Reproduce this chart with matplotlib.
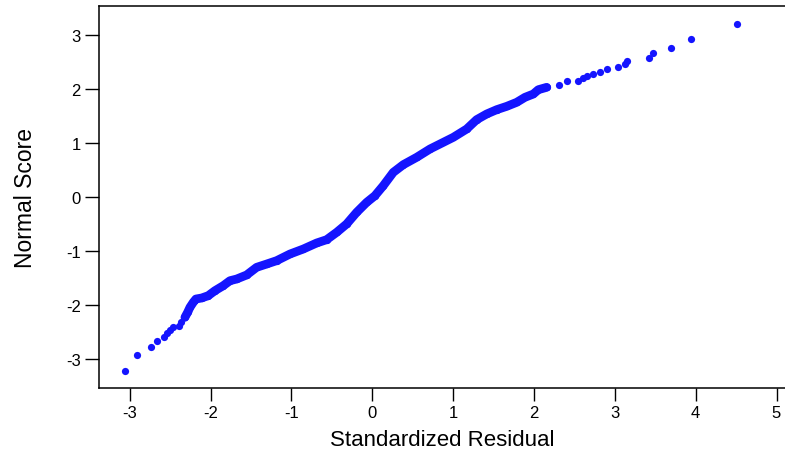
import matplotlib
matplotlib.use("Agg")
import matplotlib.pyplot as plt

# points
# lower tail (single dots)
low_resid = [-3.055, -2.907, -2.737, -2.66, -2.577, -2.543, -2.499, -2.465, -2.387, -2.37]
low_score = [-3.217, -2.932, -2.778, -2.667, -2.587, -2.519, -2.463, -2.407, -2.383, -2.309]

# middle part, the dots sit so close they make a band
mid_resid = [-2.317, -2.284, -2.255, -2.214, -2.181, -2.11, -2.029, -1.946, -1.843, -1.76,
             -1.678, -1.554, -1.43, -1.306, -1.183, -1.018, -0.853, -0.688, -0.564, -0.44,
             -0.317, -0.193, -0.069, 0.033, 0.136, 0.26, 0.384, 0.549, 0.714, 0.878,
             1.002, 1.168, 1.291, 1.415, 1.539, 1.663, 1.786, 1.889, 1.992, 2.054, 2.157]
mid_score = [-2.228, -2.136, -2.043, -1.95, -1.889, -1.87, -1.827, -1.735, -1.642, -1.55,
             -1.519, -1.444, -1.302, -1.241, -1.179, -1.056, -0.963, -0.852, -0.79, -0.654,
             -0.5, -0.284, -0.099, 0.024, 0.209, 0.457, 0.599, 0.735, 0.889, 1.012,
             1.105, 1.259, 1.432, 1.537, 1.617, 1.679, 1.753, 1.846, 1.907, 1.987, 2.031]

# upper tail (single dots)
high_resid = [2.313, 2.412, 2.548, 2.61, 2.652, 2.734, 2.817, 2.907, 3.043, 3.126,
              3.147, 3.427, 3.476, 3.691, 3.939, 4.508]
high_score = [2.074, 2.142, 2.154, 2.198, 2.246, 2.278, 2.32, 2.37, 2.401, 2.463,
              2.513, 2.574, 2.667, 2.765, 2.926, 3.209]

x_ticks = [-3, -2, -1, 0, 1, 2, 3, 4, 5]
y_ticks = [-3, -2, -1, 0, 1, 2, 3]


def main():
    plt.rcParams['font.family'] = ['Liberation Sans', 'DejaVu Sans']
    plt.rcParams['axes.unicode_minus'] = False  # plain hyphen like the original

    fig = plt.figure(figsize=(7.85, 4.64), dpi=100)
    ax = fig.add_axes([0.1261, 0.1616, 0.8739, 0.8233])

    dot = dict(color="#1414ff", marker="o", markersize=5.2, markeredgewidth=0)
    ax.plot(low_resid, low_score, linestyle="none", **dot)
    ax.plot(high_resid, high_score, linestyle="none", **dot)
    ax.plot(mid_resid, mid_score, linestyle="-", linewidth=6.3,
            solid_capstyle="round", solid_joinstyle="round", **dot)

    ax.set_xlim(-3.38, 5.105)
    ax.set_ylim(-3.537, 3.537)
    ax.set_xticks(x_ticks)
    ax.set_yticks(y_ticks)
    ax.tick_params(axis="x", length=9.4, width=1, labelsize=12, pad=3)
    ax.tick_params(axis="y", length=10, width=1, labelsize=12, pad=3)

    ax.spines["right"].set_visible(False)
    for s in ["top", "left", "bottom"]:
        ax.spines[s].set_linewidth(1.1)

    ax.set_xlabel("Standardized Residual", fontsize=16, labelpad=6)
    ax.set_ylabel("Normal Score", fontsize=16.5, labelpad=21)

    fig.savefig("out.png", dpi=100)


if __name__ == '__main__':
    main()
